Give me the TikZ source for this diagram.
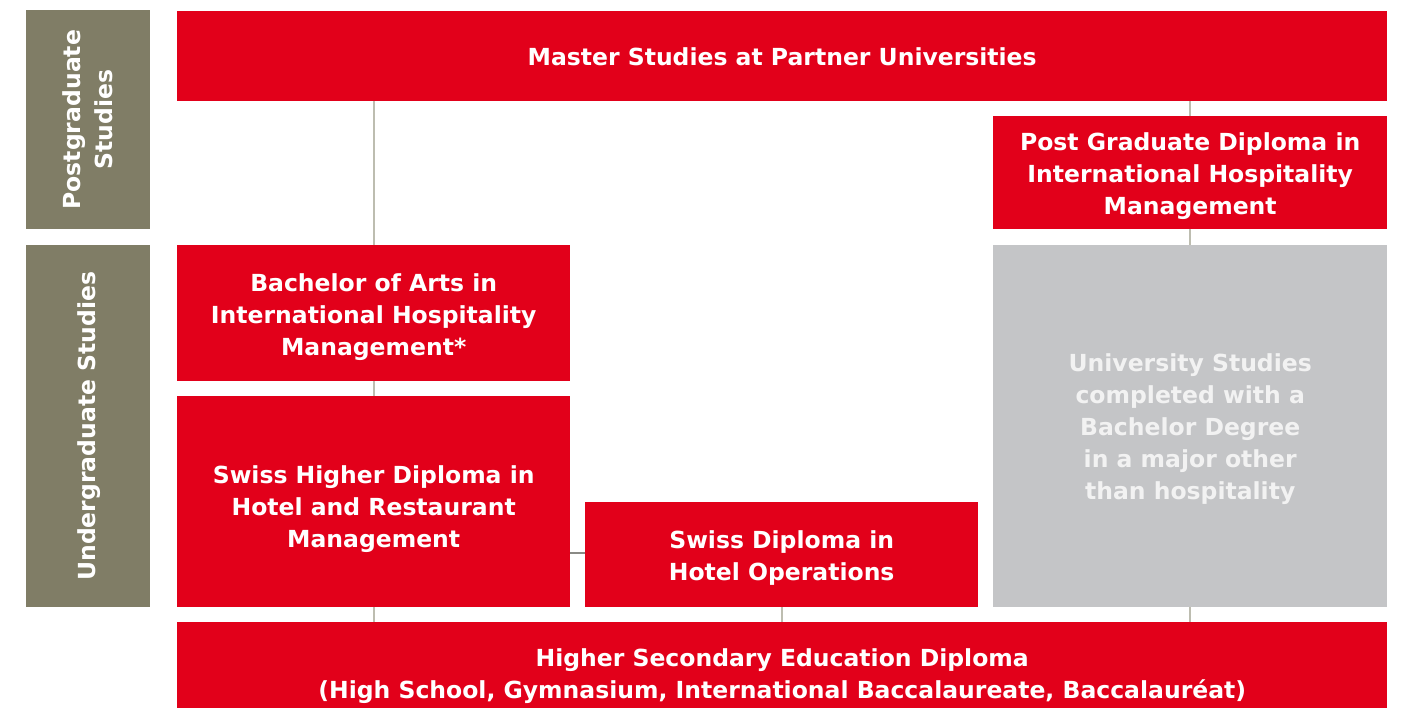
\documentclass[tikz,border=0pt]{standalone}
\usepackage{fontspec}
\setmainfont{DejaVu Sans}
\definecolor{hred}{HTML}{E2001A}
\definecolor{olive}{HTML}{807D66}
\definecolor{lgrey}{HTML}{C4C5C7}
\definecolor{conn}{HTML}{BDBDB0}
\definecolor{conndark}{HTML}{8A8A85}
\definecolor{softwhite}{HTML}{F2F2F2}
\tikzset{
  box/.style={fill=hred, draw=none, anchor=north west, inner sep=0pt},
  greybox/.style={box, fill=lgrey},
  sidebox/.style={box, fill=olive},
  label/.style={text=white, inner sep=0pt, font=\fontsize{23.5}{32}\selectfont\bfseries, align=center},
  link/.style={draw=conn, line width=1.6pt},
  linkdark/.style={draw=conndark, line width=1.6pt},
}
\begin{document}
\begin{tikzpicture}[x=1pt,y=-1pt]
\useasboundingbox (0,0) rectangle (1401,708);
% side labels
\node[sidebox, minimum width=124pt, minimum height=219pt] (pg) at (26,10) {};
\node[label, rotate=90] (pgt) at (pg.center) {Postgraduate\\Studies};
\node[sidebox, minimum width=124pt, minimum height=362pt] (ug) at (26,245) {};
\node[label, rotate=90] (ugt) at ([xshift=1pt]ug.center) {Undergraduate Studies};
% boxes
\node[box, minimum width=1210pt, minimum height=90pt] (master) at (177,11) {};
\node[label] (mastert) at ([yshift=-1pt]master.center) {Master Studies at Partner Universities};
\node[box, minimum width=394pt, minimum height=113pt] (pgd) at (993,116) {};
\node[label] (pgdt) at ([yshift=-3pt]pgd.center) {Post Graduate Diploma in\\International Hospitality\\Management};
\node[box, minimum width=393pt, minimum height=136pt] (bach) at (177,245) {};
\node[label] (bacht) at ([yshift=-4pt]bach.center) {Bachelor of Arts in\\International Hospitality\\Management*};
\node[box, minimum width=393pt, minimum height=211pt] (shd) at (177,396) {};
\node[label] (shdt) at ([yshift=-7pt]shd.center) {Swiss Higher Diploma in\\Hotel and Restaurant\\Management};
\node[box, minimum width=393pt, minimum height=105pt] (sdh) at (585,502) {};
\node[label] (sdht) at ([yshift=-3pt]sdh.center) {Swiss Diploma in\\Hotel Operations};
\node[greybox, minimum width=394pt, minimum height=362pt] (uni) at (993,245) {};
\node[label, text=softwhite] (unit) at ([yshift=-3pt]uni.center) {University Studies\\completed with a\\Bachelor Degree\\in a major other\\than hospitality};
\node[box, minimum width=1210pt, minimum height=86pt] (hsd) at (177,622) {};
\node[label] (hsdt) at ([yshift=-11pt]hsd.center) {Higher Secondary Education Diploma\\(High School, Gymnasium, International Baccalaureate, Baccalauréat)};
% connectors
\draw[link] (bach.north) -- (bach.north |- master.south);
\draw[link] (bach.south) -- (bach.south |- shd.north);
\draw[link] (shd.south) -- (shd.south |- hsd.north);
\draw[link] (sdh.south) -- (sdh.south |- hsd.north);
\draw[link] (pgd.north) -- (pgd.north |- master.south);
\draw[link] (pgd.south) -- (pgd.south |- uni.north);
\draw[link] (uni.south) -- (uni.south |- hsd.north);
\draw[linkdark] (shd.east |- 0,553) -- (sdh.west |- 0,553);
\end{tikzpicture}
\end{document}
